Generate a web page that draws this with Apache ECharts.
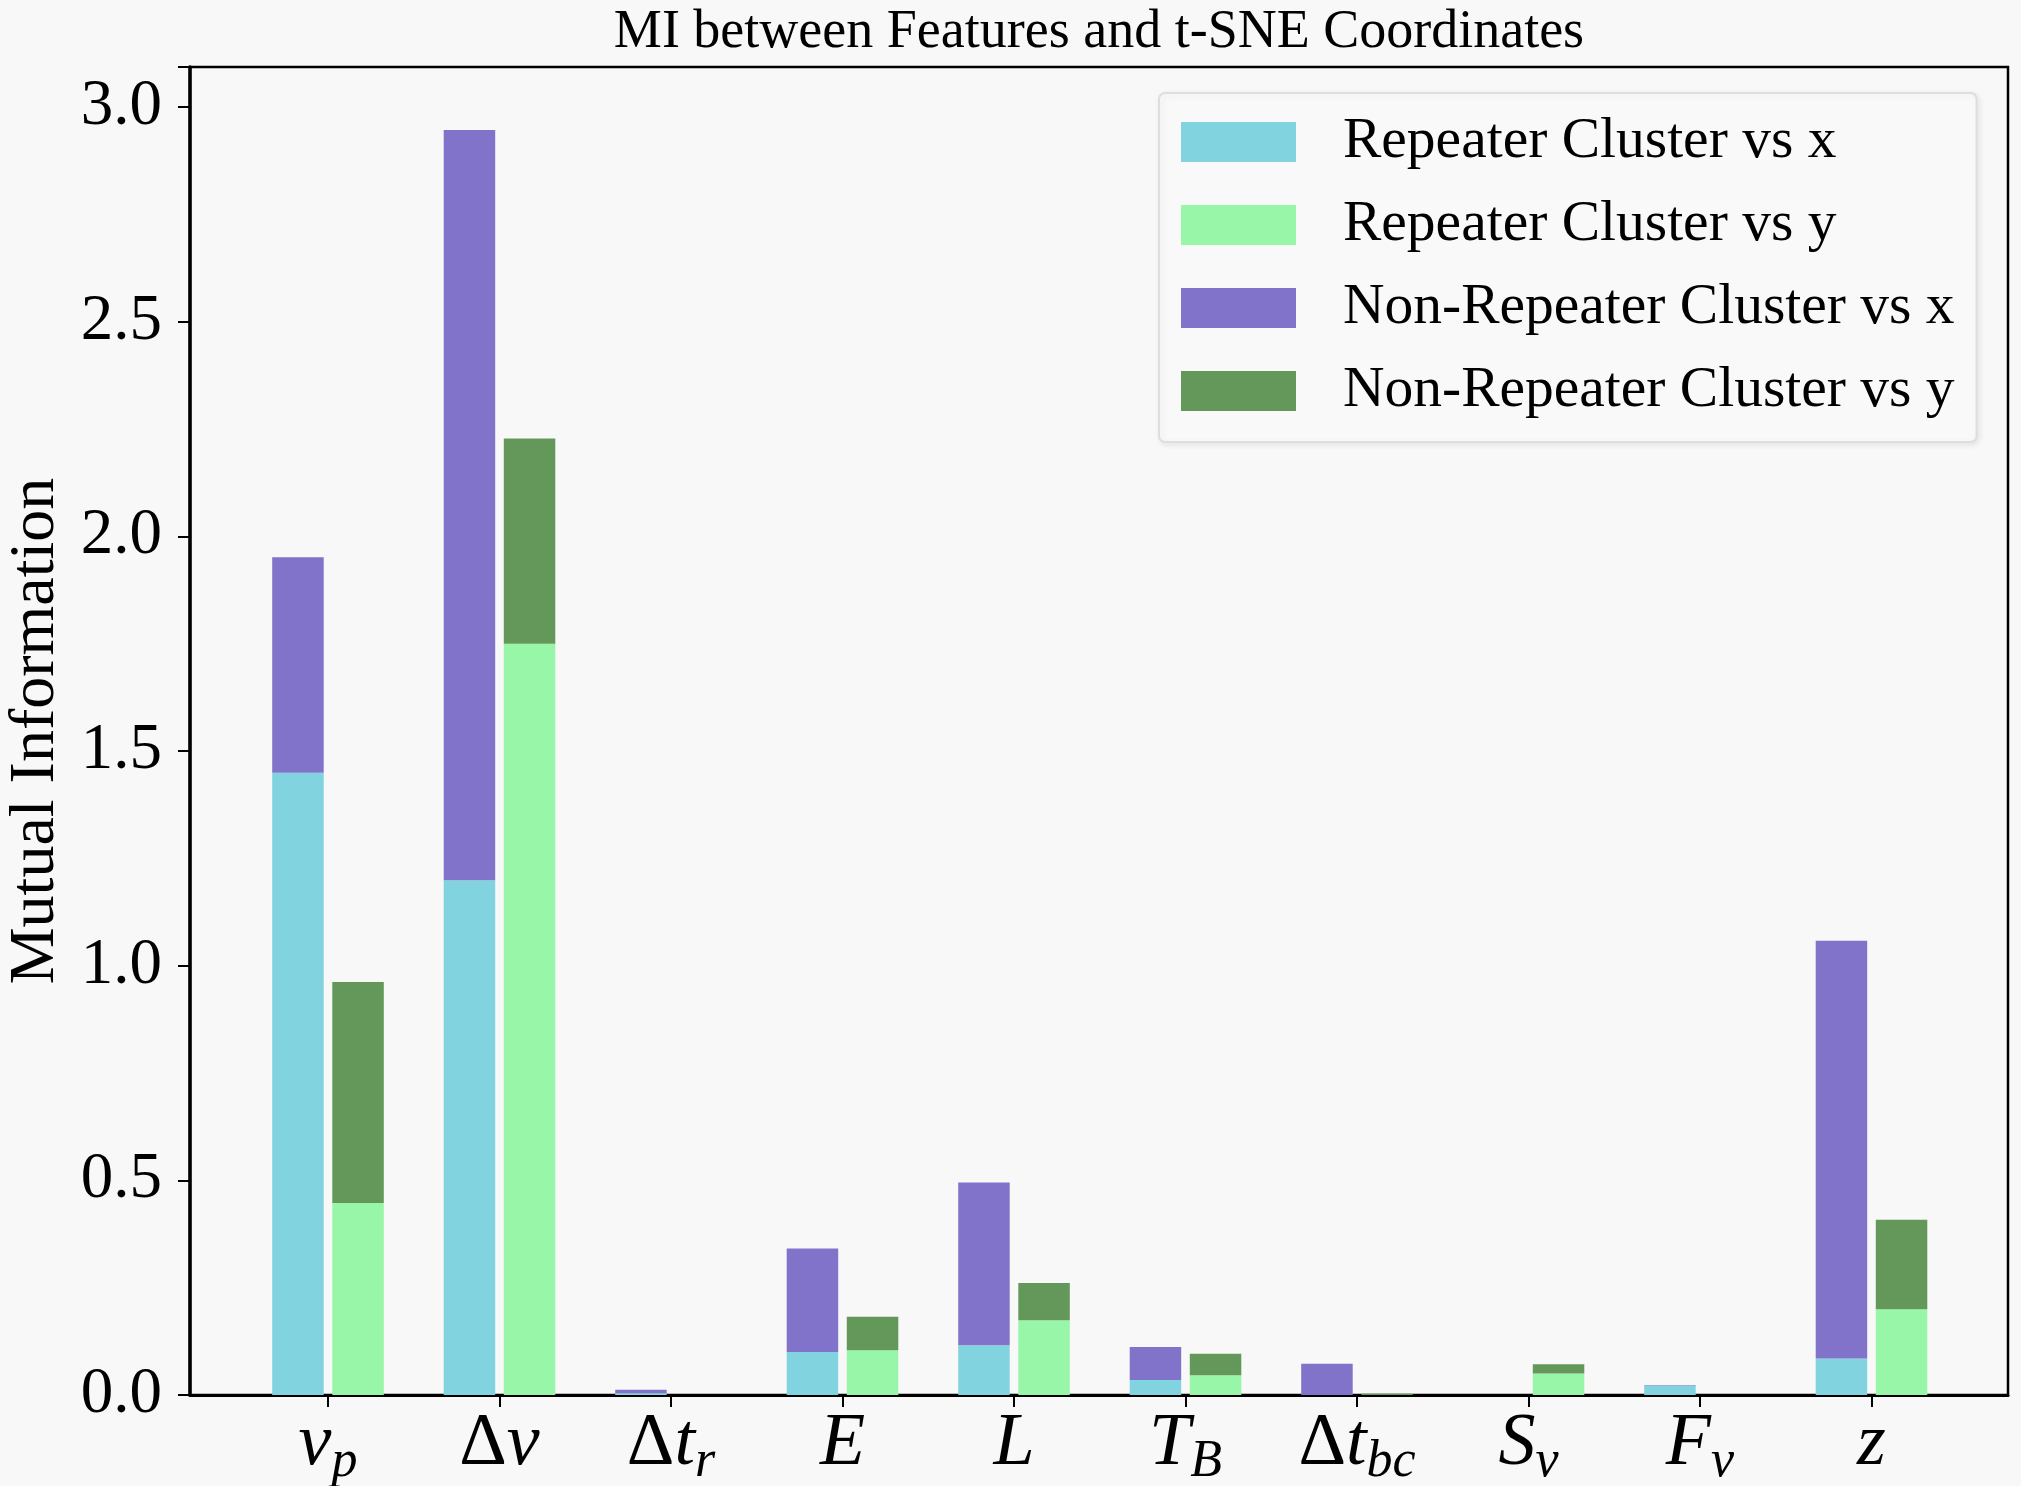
<!DOCTYPE html>
<html>
<head>
<meta charset="utf-8">
<script src="https://cdn.jsdelivr.net/npm/echarts@6/dist/echarts.min.js"></script>
<style>
html,body{margin:0;padding:0;background:#f8f8f8;}
#chart{width:2021px;height:1486px;}
</style>
</head>
<body>
<div id="chart"></div>
<script>
// Feature names (underscore marks a subscript)
const categories = ['ν_p', 'Δν', 'Δt_r', 'E', 'L', 'T_B', 'Δt_bc', 'S_ν', 'F_ν', 'z'];
const yTicks = [0, 0.5, 1.0, 1.5, 2.0, 2.5, 3.0];

// Repeater cluster MI (bottom segments)
const repeaterX = [1.449, 1.199, 0.004, 0.100, 0.116, 0.035, 0.000, 0.000, 0.022, 0.085];
const repeaterY = [0.447, 1.750, 0.000, 0.104, 0.174, 0.046, 0.000, 0.050, 0.000, 0.200];
// Non-repeater cluster MI (stacked on top)
const nonRepeaterX = [0.502, 1.747, 0.008, 0.241, 0.379, 0.077, 0.073, 0.000, 0.001, 0.973];
const nonRepeaterY = [0.515, 0.478, 0.000, 0.078, 0.087, 0.050, 0.003, 0.0215, 0.000, 0.208];

const seriesNames = ['Repeater Cluster vs x', 'Repeater Cluster vs y', 'Non-Repeater Cluster vs x', 'Non-Repeater Cluster vs y'];
const colors = ['#82d3e0', '#98f6a8', '#8173c9', '#64975a'];

function toRich(name) {
  const parts = name.split('_');
  let base = parts[0];
  let s = '';
  if (base.startsWith('Δ')) {
    s += '{up|Δ}';
    base = base.slice(1);
  }
  if (base.length) s += '{it|' + base + '}';
  if (parts[1]) s += '{sub|' + parts[1] + '}';
  return s;
}

const font = 'Liberation Serif';
const barW = 51.5;
const yMax = 3.093;

const chart = echarts.init(document.getElementById('chart'), null, {renderer: 'canvas'});
chart.setOption({
  backgroundColor: '#f8f8f8',
  animation: false,
  title: {
    text: 'MI between Features and t-SNE Coordinates',
    left: 1099, top: 6, textAlign: 'center', padding: 0,
    textStyle: {fontFamily: font, fontSize: 54, fontWeight: 'normal', color: '#000'}
  },
  legend: {
    orient: 'vertical',
    left: 1159, top: 93,
    padding: [20, 22, 22, 22],
    itemWidth: 115, itemHeight: 40, itemGap: 25,
    backgroundColor: '#f9f9f9',
    borderColor: '#dedede', borderWidth: 2, borderRadius: 6,
    shadowColor: 'rgba(0,0,0,0.08)', shadowBlur: 6, shadowOffsetX: 2, shadowOffsetY: 2,
    icon: 'rect',
    data: seriesNames,
    textStyle: {fontFamily: font, fontSize: 57.5, color: '#000', padding: [0, 0, 0, 42]}
  },
  grid: [
    // frame grid
    {left: 190, right: 13, top: 67, bottom: 91, outerBoundsMode: 'none', containLabel: false,
     show: true, borderColor: '#000', borderWidth: 2.5, backgroundColor: 'transparent'},
    // bar grid: category bands aligned with the frame's data range
    {left: 242.25, right: 63.75, top: 67, bottom: 91, outerBoundsMode: 'none', containLabel: false}
  ],
  xAxis: [
    {
      type: 'value', gridIndex: 0, min: 0, max: 1,
      splitLine: {show: false},
      axisLine: {show: true, onZero: false, lineStyle: {color: '#000', width: 3}},
      axisTick: {show: false}, axisLabel: {show: false}
    },
    {
      type: 'category', gridIndex: 1,
      data: categories,
      axisLine: {show: false},
      axisTick: {show: true, alignWithLabel: true, length: 12, inside: false, lineStyle: {color: '#000', width: 2}},
      axisLabel: {
        show: true, interval: 0,
        margin: 13,
        formatter: v => toRich(v),
        rich: {
          it: {fontFamily: font, fontStyle: 'italic', fontSize: 74, lineHeight: 80, verticalAlign: 'top', color: '#000'},
          up: {fontFamily: font, fontStyle: 'normal', fontSize: 74, lineHeight: 80, verticalAlign: 'top', color: '#000'},
          sub: {fontFamily: font, fontStyle: 'italic', fontSize: 52, lineHeight: 40, verticalAlign: 'bottom', color: '#000'}
        }
      }
    }
  ],
  yAxis: [
    {
      type: 'value', gridIndex: 0,
      min: 0, max: yMax, interval: 0.5,
      name: 'Mutual Information',
      nameLocation: 'middle',
      nameGap: 122,
      nameTextStyle: {fontFamily: font, fontSize: 64, color: '#000'},
      splitLine: {show: false},
      axisLine: {show: true, onZero: false, lineStyle: {color: '#000', width: 3.5}},
      axisTick: {show: true, length: 12, lineStyle: {color: '#000', width: 2}},
      axisLabel: {
        margin: 28,
        fontFamily: font, fontSize: 65, color: '#000',
        formatter: v => yTicks.includes(Math.round(v * 10) / 10) ? v.toFixed(1) : ''
      }
    },
    {
      type: 'value', gridIndex: 1, min: 0, max: yMax,
      show: false, splitLine: {show: false}
    }
  ],
  series: [
    {name: seriesNames[0], type: 'bar', xAxisIndex: 1, yAxisIndex: 1, stack: 'x', data: repeaterX, barWidth: barW, barGap: '16.7%', itemStyle: {color: colors[0]}},
    {name: seriesNames[1], type: 'bar', xAxisIndex: 1, yAxisIndex: 1, stack: 'y', data: repeaterY, barWidth: barW, barGap: '16.7%', itemStyle: {color: colors[1]}},
    {name: seriesNames[2], type: 'bar', xAxisIndex: 1, yAxisIndex: 1, stack: 'x', data: nonRepeaterX, barWidth: barW, barGap: '16.7%', itemStyle: {color: colors[2]}},
    {name: seriesNames[3], type: 'bar', xAxisIndex: 1, yAxisIndex: 1, stack: 'y', data: nonRepeaterY, barWidth: barW, barGap: '16.7%', itemStyle: {color: colors[3]}}
  ]
});
</script>
</body>
</html>
